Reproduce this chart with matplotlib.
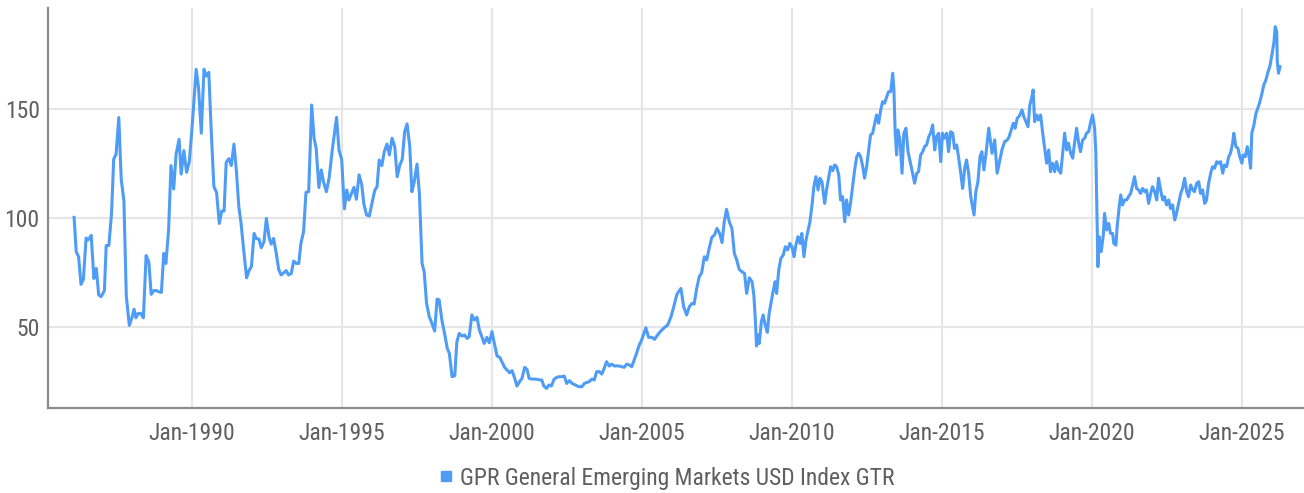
import matplotlib
matplotlib.use("Agg")
import matplotlib.pyplot as plt
from matplotlib.lines import Line2D
from matplotlib import font_manager as fm
import numpy as np

# ---- data (decimal years, index level) ----
dates_a = [1986.07,1986.14,1986.22,1986.30,1986.38,1986.47,1986.53,1986.58,1986.64,1986.73,
           1986.81,1986.89,1986.97,1987.08,1987.14,1987.23,1987.32,1987.39,1987.47,1987.56,
           1987.64,1987.73,1987.81,1987.91,1987.99,1988.07,1988.13,1988.21,1988.29,1988.38,
           1988.47,1988.56,1988.64,1988.73,1988.82,1988.90,1988.98,1989.06,1989.13,1989.22,
           1989.30,1989.39,1989.47,1989.57,1989.64,1989.73,1989.82,1989.91,1990.00,1990.08,
           1990.14,1990.22,1990.31,1990.40,1990.48,1990.56,1990.64,1990.73,1990.82,1990.91,
           1990.99,1991.07,1991.14,1991.23,1991.31,1991.40,1991.48,1991.56,1991.63,1991.72,
           1991.82,1991.90,1991.98,1992.07,1992.14,1992.23,1992.31,1992.40,1992.48,1992.57,
           1992.64,1992.72,1992.81,1992.89,1992.97,1993.06,1993.14,1993.22,1993.31,1993.39,
           1993.48,1993.56,1993.63,1993.72,1993.80,1993.89,1993.99,1994.07,1994.14,1994.23,
           1994.31,1994.39,1994.48,1994.57]
values_a = [100.3,84.5,82.2,69.5,71.8,90.8,89.9,90.6,92.0,72.2,
            76.8,64.6,63.8,66.6,87.3,87.4,102.6,127.0,129.4,146.2,
            118.0,108.0,64.1,50.6,53.8,58.0,54.1,56.1,56.1,54.1,
            82.7,79.9,64.9,66.6,66.6,66.0,65.8,83.7,79.1,94.5,
            124.1,113.3,129.4,136.2,120.2,131.0,121.0,125.9,141.3,156.6,
            168.4,159.7,139.0,168.4,165.3,167.0,140.5,114.4,111.7,97.5,
            103.2,103.2,125.6,127.3,124.1,134.0,121.8,105.2,98.3,85.7,
            72.5,75.8,77.6,92.9,90.6,90.3,86.3,89.1,99.8,91.1,
            88.0,90.6,83.7,76.4,73.8,74.8,75.8,73.8,74.5,80.2,
            79.1,79.1,88.3,93.7,111.8,112.1,152.0,136.7,132.0,114.0,
            122.1,116.3,112.1,118.3]

dates_b = [1994.69,1994.82,1994.90,1994.99,1995.08,1995.16,1995.23,1995.32,1995.40,1995.48,
           1995.57,1995.66,1995.73,1995.82,1995.91,1996.00,1996.09,1996.17,1996.24,1996.33,
           1996.41,1996.50,1996.58,1996.67,1996.76,1996.84,1996.93,1997.01,1997.09,1997.17,
           1997.26,1997.33,1997.41,1997.50,1997.58,1997.67,1997.74,1997.82,1997.91,1998.00,
           1998.09,1998.17,1998.24,1998.33,1998.42,1998.51,1998.58,1998.67,1998.76,1998.83,
           1998.91,1999.00,1999.09,1999.17,1999.24,1999.33,1999.41,1999.50,1999.58,1999.67,
           1999.74,1999.83,1999.91,2000.00,2000.09,2000.17,2000.26,2000.33,2000.42,2000.50,
           2000.59,2000.67,2000.76,2000.83,2000.92,2001.00,2001.09,2001.17,2001.24,2001.33,
           2001.41,2001.50,2001.58,2001.66,2001.73,2001.82,2001.90,2001.98,2002.07,2002.16,
           2002.24,2002.33,2002.41,2002.49,2002.58,2002.67,2002.74,2002.83,2002.91,2003.00,
           2003.08,2003.17,2003.24,2003.33,2003.41,2003.49,2003.58,2003.66,2003.74,2003.82,
           2003.91,2003.99,2004.08,2004.16,2004.24,2004.32,2004.41,2004.49,2004.58,2004.66,
           2004.74,2004.82,2004.91,2004.99]
values_b = [132.8,146.3,131.3,127.0,104.2,112.9,108.3,111.3,114.1,108.6,
            119.8,115.2,106.4,101.4,100.9,106.7,112.6,114.4,126.7,124.1,
            130.5,134.0,129.0,136.7,132.8,119.0,124.4,127.0,139.7,143.3,
            132.8,112.1,116.7,124.8,111.3,79.1,75.3,60.7,54.6,51.5,
            48.0,62.7,62.3,53.1,46.9,40.0,37.7,27.0,27.5,43.1,
            46.9,45.7,46.2,44.6,45.4,55.4,53.1,54.3,48.5,45.1,
            42.3,45.1,42.6,47.7,41.6,36.5,35.9,33.9,31.3,30.1,
            28.8,29.8,26.2,22.7,24.7,26.2,31.3,30.3,26.2,25.9,
            25.9,25.8,25.5,25.5,22.7,21.6,23.2,22.7,25.8,26.7,
            27.0,27.0,27.3,23.9,25.2,23.9,23.5,22.8,22.4,22.4,
            23.9,24.4,24.7,25.9,25.5,29.3,29.3,28.2,30.8,33.9,
            31.9,32.8,31.9,32.0,31.9,31.6,31.3,32.8,32.4,31.6,
            34.7,37.7,41.6,43.9]

dates_c = [2005.13,2005.22,2005.33,2005.42,2005.52,2005.63,2005.74,2005.86,2005.97,2006.06,
           2006.16,2006.22,2006.30,2006.39,2006.49,2006.58,2006.67,2006.74,2006.82,2006.91,
           2006.99,2007.08,2007.16,2007.24,2007.33,2007.42,2007.50,2007.59,2007.67,2007.74,
           2007.82,2007.91,2008.00,2008.08,2008.16,2008.24,2008.33,2008.42,2008.49,2008.58,
           2008.67,2008.73,2008.78,2008.82,2008.87,2008.91,2008.98,2009.04,2009.11,2009.18,
           2009.24,2009.31,2009.38,2009.44,2009.49,2009.56,2009.63,2009.71,2009.78,2009.86,
           2009.93,2010.00,2010.07,2010.13,2010.20,2010.27,2010.33,2010.40,2010.47,2010.53,
           2010.60,2010.67,2010.73,2010.80,2010.87,2010.93,2011.00,2011.09,2011.16,2011.22,
           2011.29,2011.36,2011.42,2011.49,2011.56,2011.62,2011.69,2011.76,2011.82,2011.89,
           2011.96,2012.02,2012.09,2012.16,2012.22,2012.29,2012.36,2012.42,2012.49,2012.56,
           2012.62,2012.69,2012.76,2012.82,2012.89,2012.96,2013.02,2013.09,2013.16,2013.22,
           2013.29,2013.36,2013.40,2013.44,2013.49,2013.53,2013.60,2013.67,2013.73,2013.80,
           2013.87,2013.93,2014.00,2014.09,2014.16,2014.22,2014.29,2014.36,2014.42,2014.49,
           2014.56,2014.62,2014.69,2014.76,2014.82,2014.89,2014.96,2015.02,2015.09,2015.16,
           2015.22,2015.29,2015.36,2015.42,2015.49,2015.56,2015.62,2015.69,2015.76,2015.82,
           2015.89,2015.96,2016.02,2016.07,2016.13,2016.20,2016.27,2016.33,2016.40,2016.47]
values_c = [49.5,45.1,45.1,44.2,46.2,48.0,49.5,50.8,54.6,59.2,
            64.6,66.1,67.6,59.2,55.4,59.2,60.7,60.4,67.2,73.0,
            74.8,82.2,80.7,86.0,91.1,92.2,95.2,92.9,88.7,97.9,
            104.0,98.3,95.2,83.7,80.7,76.4,75.3,74.5,65.3,72.5,
            70.7,64.6,53.1,41.1,46.2,42.3,52.3,55.4,50.8,47.4,
            56.1,61.5,66.9,70.7,65.3,76.1,81.4,83.0,86.8,85.3,
            88.3,86.8,82.2,87.5,91.4,88.3,92.9,82.2,89.9,93.7,
            98.3,106.0,114.4,119.0,112.9,118.3,116.7,106.7,113.6,118.3,
            123.6,121.8,124.4,123.6,119.8,108.3,109.8,98.3,108.3,101.4,
            107.5,114.4,122.1,128.2,129.8,128.2,123.6,118.3,123.6,131.3,
            138.2,139.0,143.6,147.4,143.6,149.7,153.5,152.8,155.8,158.1,
            158.1,166.6,158.9,139.7,129.0,140.5,135.9,120.6,139.0,141.3,
            130.5,126.7,122.1,116.0,120.6,121.3,129.0,130.5,132.8,133.6,
            137.4,139.0,142.8,131.3,137.4,139.0,125.9,139.0,136.7,139.0,
            130.5,139.7,139.0,132.0,133.6,127.5,121.3,113.6,122.9,126.7,
            120.6,109.8,105.2,101.4,112.1,116.7,128.2,130.5,122.1,129.8]

dates_d = [2016.56,2016.67,2016.76,2016.84,2016.91,2017.00,2017.09,2017.18,2017.24,2017.31,
           2017.38,2017.44,2017.51,2017.58,2017.67,2017.73,2017.80,2017.87,2017.93,2018.00,
           2018.04,2018.09,2018.16,2018.22,2018.29,2018.36,2018.42,2018.49,2018.56,2018.62,
           2018.69,2018.76,2018.82,2018.89,2018.96,2019.02,2019.09,2019.16,2019.22,2019.29,
           2019.36,2019.42,2019.49,2019.56,2019.62,2019.69,2019.76,2019.82,2019.89,2019.96,
           2020.02,2020.09,2020.13,2020.16,2020.20,2020.24,2020.31,2020.38,2020.42,2020.49,
           2020.56,2020.62,2020.69,2020.73,2020.80,2020.84,2020.91,2020.96,2021.02,2021.09,
           2021.16,2021.22,2021.29,2021.36,2021.42,2021.49,2021.56,2021.62,2021.69,2021.76,
           2021.82,2021.89,2021.96,2022.02,2022.09,2022.16,2022.22,2022.29,2022.36,2022.42,
           2022.49,2022.56,2022.62,2022.69,2022.76,2022.82,2022.89,2022.96,2023.02,2023.09,
           2023.16,2023.22,2023.29,2023.36,2023.42,2023.49,2023.56,2023.62,2023.69,2023.76,
           2023.82,2023.89,2023.96,2024.02,2024.09,2024.16,2024.22,2024.29,2024.36,2024.42,
           2024.49,2024.56,2024.62,2024.69,2024.73,2024.80,2024.87,2024.93,2025.00,2025.04,
           2025.11,2025.18,2025.24,2025.29,2025.33,2025.40,2025.47,2025.53,2025.60,2025.67,
           2025.73,2025.80,2025.87,2025.93,2026.00,2026.07,2026.11,2026.16,2026.18,2026.22,
           2026.27]
values_d = [141.3,129.8,135.9,120.6,125.2,131.3,135.1,135.9,137.4,140.5,
            143.6,141.3,145.9,146.9,149.7,146.6,144.3,142.0,152.0,155.8,
            158.9,144.3,147.4,145.1,147.4,139.0,132.8,125.2,131.3,121.3,
            125.2,121.3,125.9,122.1,120.6,129.0,139.0,131.3,134.4,129.8,
            127.5,134.4,141.3,134.4,130.5,135.9,136.7,139.0,139.7,144.3,
            147.4,141.3,130.5,108.3,77.6,91.4,84.5,92.2,102.1,94.5,
            97.5,92.9,92.9,88.3,87.5,96.0,105.2,110.6,106.0,108.3,
            108.3,109.8,111.3,115.2,119.0,113.6,112.9,111.3,113.6,112.1,
            112.9,106.7,111.3,114.4,112.1,108.3,118.3,112.9,108.3,109.8,
            106.0,108.3,104.4,106.0,99.1,102.1,106.7,111.3,113.6,118.3,
            112.1,109.8,115.2,112.9,112.1,115.9,116.7,111.3,112.9,106.7,
            108.3,115.9,120.6,123.6,122.9,125.9,125.2,125.9,120.6,124.4,
            123.6,128.2,129.8,134.4,139.0,132.8,132.0,128.2,125.2,129.0,
            128.2,132.8,128.2,122.9,139.0,142.8,148.2,150.5,153.5,157.4,
            161.2,163.5,167.3,169.6,175.0,181.1,188.0,185.7,171.9,166.6,
            169.6]

series_name = "GPR General Emerging Markets USD Index GTR"
tick_years = [1990, 1995, 2000, 2005, 2010, 2015, 2020, 2025]
tick_labels = ["Jan-%d" % y for y in tick_years]
y_ticks = [50, 100, 150]

dates = np.array(dates_a + dates_b + dates_c + dates_d)
values = np.array(values_a + values_b + values_c + values_d)

# ---- font: prefer a narrow / condensed sans, else Roboto light ----
fp = None
entries = fm.fontManager.ttflist
for want_name in ["Liberation Sans Narrow", "Roboto Condensed", "Open Sans Condensed"]:
    hits = [f for f in entries if f.name == want_name and f.style == "normal"]
    if hits:
        hits.sort(key=lambda f: abs((f.weight if isinstance(f.weight, int) else 400) - 400))
        fp = fm.FontProperties(fname=hits[0].fname)
        break
if fp is None:
    hits = [f for f in entries if f.style == "normal"
            and str(f.stretch) in ("condensed", "semi-condensed", "extra-condensed")
            and f.name in ("DejaVu Sans", "Roboto", "Open Sans", "Noto Sans", "Liberation Sans", "Inter")]
    if hits:
        hits.sort(key=lambda f: abs((f.weight if isinstance(f.weight, int) else 400) - 400))
        fp = fm.FontProperties(fname=hits[0].fname)
narrow = fp is not None
if fp is None:
    fp = fm.FontProperties(family="Roboto", weight="light")

FS = 17 if narrow else 15.5

# ---- style ----
LINE = "#4e9cf5"
TEXT = "#5f5f5f"
GRID = "#e6e6e6"
SPINE = "#8a8a8a"

fig = plt.figure(figsize=(13.04, 4.93), dpi=100)
ax = fig.add_axes([48/1304, 1 - 408/493, 1 - 48/1304, 400/493])

ax.plot(dates, values, color=LINE, lw=2.2, solid_joinstyle="round", zorder=3)

ax.set_xlim(1985.2, 2027.07)
ax.set_ylim(12.6, 196.6)
ax.set_xticks(tick_years)
ax.set_xticklabels(tick_labels)
ax.set_yticks(y_ticks)
ax.grid(True, color=GRID, lw=1.6, zorder=0)
ax.tick_params(axis="both", length=0, labelcolor=TEXT)
ax.tick_params(axis="x", pad=10)
ax.tick_params(axis="y", pad=6)
for lab in ax.get_xticklabels() + ax.get_yticklabels():
    lab.set_fontproperties(fp)
    lab.set_fontsize(FS)

for s in ["top", "right"]:
    ax.spines[s].set_visible(False)
for s in ["left", "bottom"]:
    ax.spines[s].set_color(SPINE)
    ax.spines[s].set_linewidth(1.6)

lp = fp.copy()
lp.set_size(FS)
handle = Line2D([], [], marker="s", ls="none", color=LINE, markersize=7.5)
fig.legend([handle], [series_name], loc="center",
           bbox_to_anchor=(667/1304, 1 - 478/493), frameon=False,
           handlelength=0.6, handletextpad=0.3, prop=lp, labelcolor=TEXT)

fig.savefig("out.png", dpi=100)
